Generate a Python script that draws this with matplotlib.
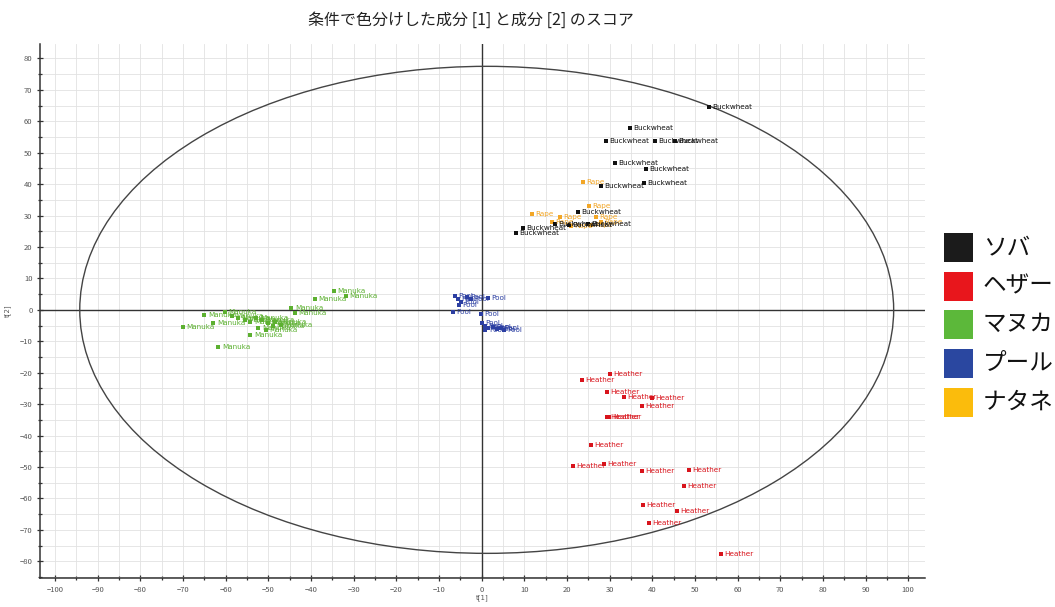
import matplotlib
matplotlib.use("Agg")
import matplotlib.pyplot as plt
from matplotlib.patches import Ellipse, Rectangle
from matplotlib.ticker import MultipleLocator

plt.rcParams['font.family'] = ['Noto Sans CJK JP', 'DejaVu Sans']

# --- score data: t[1], t[2] per sample ---
groups = ["Buckwheat", "Heather", "Manuka", "Pool", "Rape"]
legend_labels = ["ソバ", "ヘザー", "マヌカ", "プール", "ナタネ"]
legend_colors = ["#1b1b1b", "#e8161c", "#5cb83a", "#2a47a0", "#fbbc0c"]
point_colors = {"Buckwheat": "#111111", "Heather": "#d8141c", "Manuka": "#5cb030",
                "Pool": "#2c3fa2", "Rape": "#f2a626"}

buckwheat_t1 = [53.3, 34.7, 29.1, 40.6, 45.3, 31.2, 38.5, 38.0, 27.9, 22.5, 9.6, 8.0, 17.1, 20.4, 24.9]
buckwheat_t2 = [64.6, 58.0, 53.8, 53.8, 53.8, 46.8, 44.9, 40.4, 39.5, 31.2, 26.1, 24.5, 27.4, 27.1, 27.4]

heather_t1 = [30.0, 23.5, 29.3, 33.3, 39.9, 37.6, 29.3, 29.8, 25.6, 21.4, 28.6, 37.6, 48.6, 47.4, 37.8, 45.8, 39.2, 56.1]
heather_t2 = [-20.4, -22.3, -26.1, -27.7, -28.0, -30.6, -34.1, -34.0, -43.0, -49.7, -49.0, -51.3, -51.0, -56.1, -62.1, -64.0, -67.8, -77.7]

manuka_t1 = [-34.7, -31.9, -39.0, -44.6, -43.7, -65.0, -70.0, -62.9, -54.2, -61.7,
             -60.1, -58.5, -57.1, -55.4, -54.2, -52.8, -51.4, -50.0, -48.4, -47.0, -52.3, -50.6, -49.0]
manuka_t2 = [6.1, 4.5, 3.5, 0.6, -1.0, -1.6, -5.4, -4.1, -8.0, -11.8,
             -0.6, -1.9, -2.5, -3.2, -3.8, -2.5, -3.2, -4.1, -3.8, -4.8, -5.7, -6.4, -5.1]

pool_t1 = [-6.3, -5.6, -4.9, -5.4, -3.5, -2.6, 1.4, -6.8, -0.2, 0.0, 0.7, 1.6, 2.6, 3.5, 4.5, 5.2, 0.9]
pool_t2 = [4.5, 3.5, 2.5, 1.6, 4.1, 3.5, 3.8, -0.6, -1.3, -4.1, -5.1, -5.7, -5.4, -6.1, -5.7, -6.4, -6.4]

rape_t1 = [23.7, 11.7, 25.1, 18.3, 26.8, 16.4, 20.9, 25.6, 27.9]
rape_t2 = [40.8, 30.6, 33.1, 29.6, 29.6, 28.0, 26.8, 27.1, 28.0]

scores = {
    "Buckwheat": (buckwheat_t1, buckwheat_t2),
    "Heather": (heather_t1, heather_t2),
    "Manuka": (manuka_t1, manuka_t2),
    "Pool": (pool_t1, pool_t2),
    "Rape": (rape_t1, rape_t2),
}

# Hotelling T2 ellipse
ell_center = (1.2, 0.0)
ell_semi = (95.4, 77.5)

fig = plt.figure(figsize=(10.55, 6.07), dpi=100)
ax = fig.add_axes([0.038, 0.048, 0.839, 0.880])

ax.set_xlim(-103.5, 104)
ax.set_ylim(-85.3, 84.7)

ax.xaxis.set_major_locator(MultipleLocator(10))
ax.xaxis.set_minor_locator(MultipleLocator(5))
ax.yaxis.set_major_locator(MultipleLocator(10))
ax.yaxis.set_minor_locator(MultipleLocator(5))
ax.grid(which='both', color='#e2e2e2', linewidth=0.6, zorder=0)
ax.set_axisbelow(True)

for s in ['top', 'right']:
    ax.spines[s].set_visible(False)
for s in ['left', 'bottom']:
    ax.spines[s].set_color('#333333')
    ax.spines[s].set_linewidth(1.1)

ax.tick_params(which='both', direction='inout', colors='#333333', labelcolor='#555555',
               labelsize=5.5, length=4, width=0.9)
ax.tick_params(which='minor', length=3)
ax.tick_params(axis='x', pad=4)

ax.axhline(0, color='#333333', linewidth=1.0, zorder=1)
ax.axvline(0, color='#333333', linewidth=1.0, zorder=1)

ax.add_patch(Ellipse(ell_center, 2 * ell_semi[0], 2 * ell_semi[1], fill=False,
                     edgecolor='#444444', linewidth=1.0, zorder=2))

draw_order = ["Pool", "Manuka", "Heather", "Rape", "Buckwheat"]
for g in draw_order:
    xs, ys = scores[g]
    c = point_colors[g]
    ax.scatter(xs, ys, marker='s', s=11, color=c, zorder=3, linewidths=0)
    for x, y in zip(xs, ys):
        ax.annotate(g, (x, y), xytext=(2.5, 0), textcoords='offset points',
                    fontsize=5.2, color=c, va='center', ha='left', zorder=4,
                    family=['DejaVu Sans'])

ax.set_xlabel("t[1]", fontsize=5, color='#555555', labelpad=0, family=['DejaVu Sans'])
ax.set_ylabel("t[2]", fontsize=5, color='#555555', labelpad=6, family=['DejaVu Sans'])

fig.text(0.446, 0.966, "条件で色分けした成分 [1] と成分 [2] のスコア", ha='center', va='center',
         fontsize=11.5, color='#222222')

# legend on the right
sq_w, sq_h = 29 / 1055, 29 / 607
for i, (lab, col) in enumerate(zip(legend_labels, legend_colors)):
    cy = 1 - (247.5 + i * 38.7) / 607
    fig.add_artist(Rectangle((944 / 1055, cy - sq_h / 2), sq_w, sq_h, transform=fig.transFigure,
                             facecolor=col, edgecolor='none'))
    fig.text(983 / 1055, cy, lab, ha='left', va='center', fontsize=17, color='#111111')

fig.savefig("out.png", dpi=100)
